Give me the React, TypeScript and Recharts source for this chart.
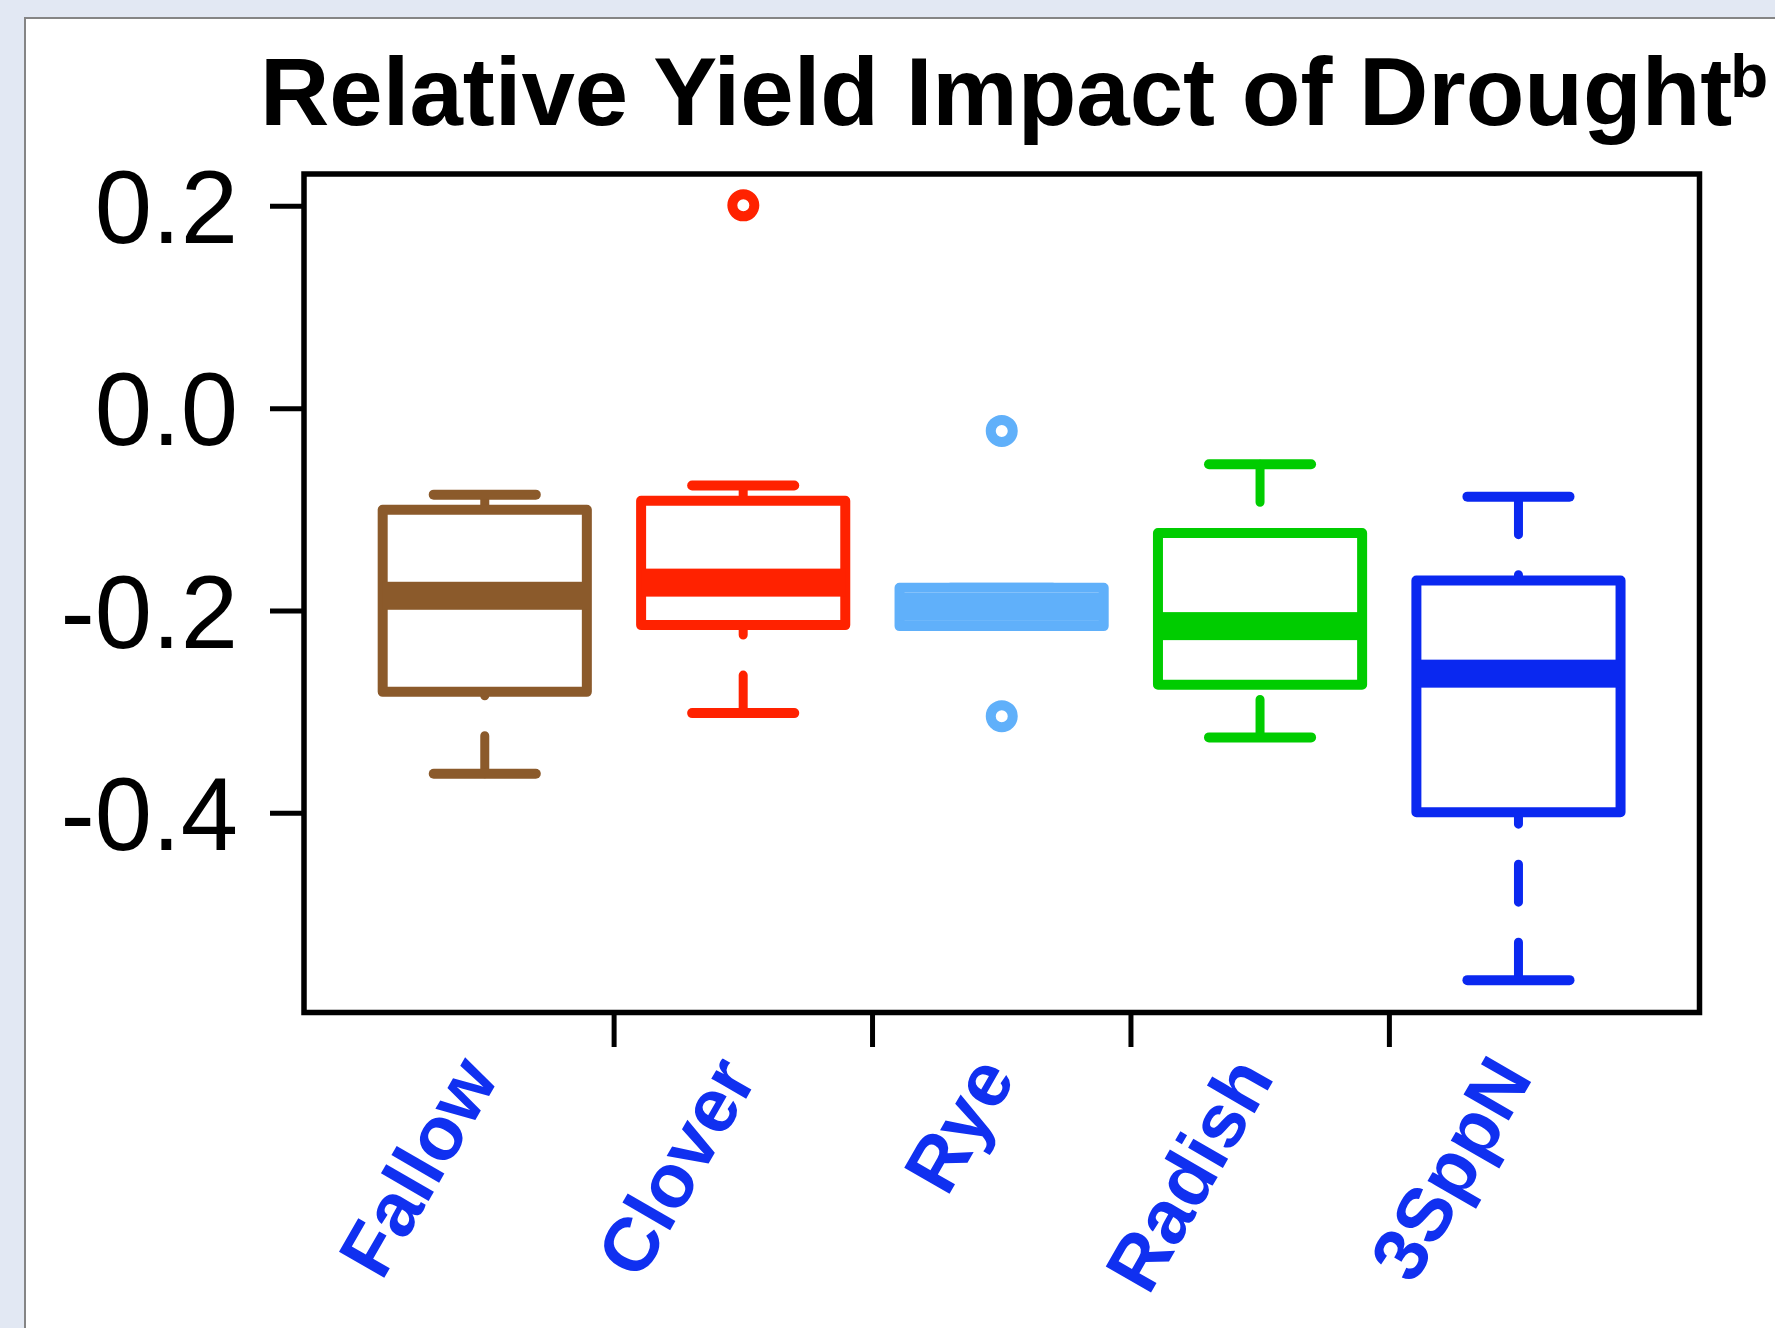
import React from 'react';
import { ComposedChart, Bar, Scatter, XAxis, YAxis, ReferenceArea } from 'recharts';

// ---------- data ----------
const CATEGORIES = ['Fallow', 'Clover', 'Rye', 'Radish', '3SppN'];
const LOWER_WHISKER = [-0.361, -0.301, -0.215, -0.325, -0.565];
const Q1 = [-0.28, -0.214, -0.215, -0.273, -0.399];
const MEDIAN = [-0.185, -0.172, -0.196, -0.215, -0.262];
const Q3 = [-0.1, -0.091, -0.177, -0.123, -0.17];
const UPPER_WHISKER = [-0.085, -0.076, -0.177, -0.055, -0.087];
const OUTLIER_CATEGORY = ['Clover', 'Rye', 'Rye'];
const OUTLIER_VALUES = [0.201, -0.022, -0.304];
const Y_TICKS = [0.2, 0.0, -0.2, -0.4];
const CATEGORY_POSITIONS = [1, 2, 3, 4, 5];
const X_TICK_POSITIONS = [1.5, 2.5, 3.5, 4.5];
const X_DOMAIN: [number, number] = [0.3, 5.7];
const Y_DOMAIN: [number, number] = [-0.597, 0.232];
const TITLE = 'Relative Yield Impact of Drought';
const TITLE_SUP = 'b';

// ---------- style ----------
const COLORS = ['#8b5a2b', '#ff2200', '#60b0fa', '#00cc00', '#0a28f0'];
const LABEL_COLOR = '#1030f0';
const FONT = '"Liberation Sans", Arial, Helvetica, sans-serif';
const W = 1775;
const H = 1328;
const PLOT_LEFT = 304;
const PLOT_RIGHT = 1699.5;
const PLOT_TOP = 174;
const PLOT_BOTTOM = 1012.5;
const Y_AXIS_W = 300;
const X_AXIS_H = 300;
const PX_PER_UNIT = (PLOT_RIGHT - PLOT_LEFT) / (X_DOMAIN[1] - X_DOMAIN[0]);
const BOX_PX = 0.79 * PX_PER_UNIT;
const LINE_W = 10;
const WHISKER_W = 9;
const MEDIAN_PX = 28;
const X_TICK_LEN = 34.5;

const rows = CATEGORIES.map((name, i) => ({
  x: CATEGORY_POSITIONS[i],
  name,
  color: COLORS[i],
  whisker: [LOWER_WHISKER[i], UPPER_WHISKER[i]],
  box: [Q1[i], Q3[i]],
}));

const medianPoints = CATEGORIES.map((name, i) => ({ x: CATEGORY_POSITIONS[i], y: MEDIAN[i], color: COLORS[i] }));

const outlierPoints = OUTLIER_CATEGORY.map((name, i) => {
  const idx = CATEGORIES.indexOf(name);
  return { x: CATEGORY_POSITIONS[idx], y: OUTLIER_VALUES[i], color: COLORS[idx] };
});

const ALL_X_TICKS = [...CATEGORY_POSITIONS, ...X_TICK_POSITIONS].sort((a, b) => a - b);

const WhiskerShape = (props: any) => {
  const { x, y, width, height, payload } = props;
  if (x == null || y == null) return null;
  const cx = x + width / 2;
  const top = y;
  const bottom = y + height;
  const mid = y + height / 2;
  const capHalf = width * 0.25;
  const c = payload.color;
  return (
    <g>
      <line x1={cx} y1={bottom} x2={cx} y2={mid} stroke={c} strokeWidth={WHISKER_W} strokeDasharray="38 40" strokeLinecap="round" />
      <line x1={cx} y1={top} x2={cx} y2={mid} stroke={c} strokeWidth={WHISKER_W} strokeDasharray="38 40" strokeLinecap="round" />
      <line x1={cx - capHalf} y1={top} x2={cx + capHalf} y2={top} stroke={c} strokeWidth={LINE_W} strokeLinecap="round" />
      <line x1={cx - capHalf} y1={bottom} x2={cx + capHalf} y2={bottom} stroke={c} strokeWidth={LINE_W} strokeLinecap="round" />
    </g>
  );
};

const BoxShape = (props: any) => {
  const { x, y, width, height, payload } = props;
  if (x == null || y == null) return null;
  return (
    <rect x={x} y={y} width={width} height={height} fill="#ffffff" stroke={payload.color} strokeWidth={LINE_W} strokeLinejoin="round" />
  );
};

const MedianShape = (props: any) => {
  const { cx, cy, payload } = props;
  if (cx == null || cy == null) return null;
  return <rect x={cx - BOX_PX / 2} y={cy - MEDIAN_PX / 2} width={BOX_PX} height={MEDIAN_PX} fill={payload.color} />;
};

const OutlierShape = (props: any) => {
  const { cx, cy, payload } = props;
  if (cx == null || cy == null) return null;
  return <circle cx={cx} cy={cy} r={11} fill="none" stroke={payload.color} strokeWidth={10} />;
};

const XTick = (props: any) => {
  const { x, y, payload } = props;
  const v = payload.value;
  const idx = CATEGORY_POSITIONS.indexOf(v);
  if (idx < 0) {
    return <line x1={x} y1={y} x2={x} y2={y + X_TICK_LEN} stroke="#000" strokeWidth={5} />;
  }
  const ax = x + 15;
  const ay = y + 65;
  return (
    <text
      x={ax}
      y={ay}
      transform={`rotate(-60, ${ax}, ${ay})`}
      textAnchor="end"
      fontFamily={FONT}
      fontWeight="bold"
      fontSize={76}
      fill={LABEL_COLOR}
    >
      {CATEGORIES[idx]}
    </text>
  );
};

export default function App() {
  return (
    <div style={{ position: 'absolute', left: 0, top: 0, width: W, height: H, background: '#e2e8f3', overflow: 'hidden' }}>
      <div
        style={{
          position: 'absolute',
          left: 24,
          top: 17,
          right: 0,
          bottom: 0,
          background: '#ffffff',
          borderTop: '2px solid #858585',
          borderLeft: '2px solid #858585',
        }}
      />
      <div style={{ position: 'absolute', left: 0, top: 0 }}>
        <ComposedChart
          width={W}
          height={H}
          data={rows}
          margin={{
            top: PLOT_TOP,
            right: W - PLOT_RIGHT,
            left: PLOT_LEFT - Y_AXIS_W,
            bottom: H - PLOT_BOTTOM - X_AXIS_H,
          }}
        >
          <XAxis xAxisId="box" dataKey="x" type="number" domain={X_DOMAIN} ticks={CATEGORY_POSITIONS} allowDataOverflow hide />
          <XAxis xAxisId="whisk" dataKey="x" type="number" domain={X_DOMAIN} ticks={CATEGORY_POSITIONS} allowDataOverflow hide />
          <XAxis
            xAxisId="axis"
            dataKey="x"
            type="number"
            domain={X_DOMAIN}
            ticks={ALL_X_TICKS}
            interval={0}
            allowDataOverflow
            height={X_AXIS_H}
            axisLine={false}
            tickLine={false}
            tickSize={0}
            tickMargin={0}
            tick={<XTick />}
          />
          <YAxis
            yAxisId="main"
            type="number"
            domain={Y_DOMAIN}
            ticks={Y_TICKS}
            interval={0}
            allowDataOverflow
            width={Y_AXIS_W}
            axisLine={false}
            tickLine={{ stroke: '#000', strokeWidth: 5 }}
            tickSize={34}
            tickMargin={32}
            tick={{ fill: '#000', fontSize: 103, fontFamily: FONT }}
            tickFormatter={(v: number) => v.toFixed(1)}
          />
          <YAxis yAxisId="pts" dataKey="y" type="number" domain={Y_DOMAIN} allowDataOverflow hide />
          <ReferenceArea
            xAxisId="box"
            yAxisId="main"
            x1={X_DOMAIN[0]}
            x2={X_DOMAIN[1]}
            y1={Y_DOMAIN[0]}
            y2={Y_DOMAIN[1]}
            ifOverflow="visible"
            fill="none"
            fillOpacity={0}
            stroke="#000"
            strokeWidth={5.5}
            strokeOpacity={1}
          />
          <Bar xAxisId="whisk" yAxisId="main" dataKey="whisker" barSize={BOX_PX} shape={WhiskerShape} isAnimationActive={false} />
          <Bar xAxisId="box" yAxisId="main" dataKey="box" barSize={BOX_PX} shape={BoxShape} isAnimationActive={false} />
          <Scatter xAxisId="box" yAxisId="pts" dataKey="y" data={medianPoints} shape={MedianShape} isAnimationActive={false} />
          <Scatter xAxisId="box" yAxisId="pts" dataKey="y" data={outlierPoints} shape={OutlierShape} isAnimationActive={false} />
        </ComposedChart>
      </div>
      <svg width={W} height={200} style={{ position: 'absolute', left: 0, top: 0, pointerEvents: 'none' }}>
        <text x={260} y={125} fontFamily={FONT} fontWeight="bold" fontSize={96} fill="#000">
          {TITLE}
          <tspan dx={-2} dy={-28} fontSize={62}>
            {TITLE_SUP}
          </tspan>
        </text>
      </svg>
    </div>
  );
}
